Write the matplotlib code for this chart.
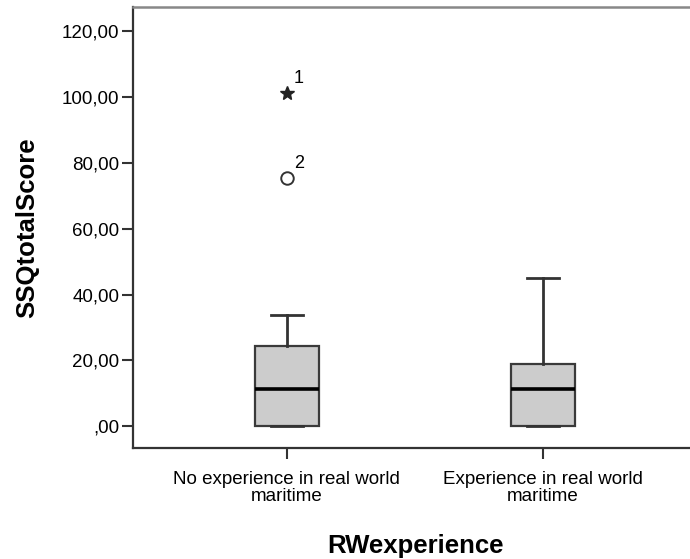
import numpy as np
import matplotlib.pyplot as plt

plt.rcParams['font.family'] = ['Liberation Sans', 'DejaVu Sans']

# box statistics per group
groups = ['No experience in real world\nmaritime', 'Experience in real world\nmaritime']
q1 = [0.0, 0.0]
median = [11.2, 11.2]
q3 = [24.3, 18.8]
whislo = [0.0, 0.0]
whishi = [33.7, 45.0]

# outliers (group index, value, case label)
outlier_vals = [75.4]
outlier_ids = ['2']
extreme_vals = [101.2]
extreme_ids = ['1']

stats = []
for i in range(len(groups)):
    stats.append({'med': median[i], 'q1': q1[i], 'q3': q3[i],
                  'whislo': whislo[i], 'whishi': whishi[i], 'fliers': []})

fig = plt.figure(figsize=(6.9, 5.59), dpi=100)
ax = fig.add_axes([0.193, 0.198, 0.817, 0.789])

ax.bxp(stats, positions=[1, 2], widths=0.25, patch_artist=True, showfliers=False,
       boxprops=dict(facecolor='#cccccc', edgecolor='#3a3a3a', linewidth=1.6),
       medianprops=dict(color='black', linewidth=2.6),
       whiskerprops=dict(color='#333333', linewidth=2.0),
       capprops=dict(color='#333333', linewidth=2.0), capwidths=0.125)

ax.plot([1] * len(outlier_vals), outlier_vals, 'o', mfc='white', mec='#333333',
        ms=9, mew=1.4)
ax.plot([1] * len(extreme_vals), extreme_vals, '*', color='#222222', ms=10)
for v, s in zip(outlier_vals, outlier_ids):
    ax.annotate(s, (1, v), xytext=(5, 7), textcoords='offset points', fontsize=13)
for v, s in zip(extreme_vals, extreme_ids):
    ax.annotate(s, (1, v), xytext=(5, 7), textcoords='offset points', fontsize=13)

yt = np.arange(0, 121, 20)
ylabels = []
for t in yt:
    s = ('%.2f' % t).replace('.', ',')
    if t == 0:
        s = s.lstrip('0')
    ylabels.append(s)

ax.set_xlim(0.4, 2.6)
ax.set_ylim(-6.7, 127.3)
ax.set_yticks(yt)
ax.set_yticklabels(ylabels)
ax.set_xticks([1, 2])
ax.set_xticklabels(groups, fontsize=13.5, linespacing=1.0)
ax.tick_params(axis='y', labelsize=13.5, length=8, width=1.5, color='#333333', pad=2)
ax.tick_params(axis='x', length=8, width=1.5, color='#333333', pad=8)

for side in ['left', 'bottom']:
    ax.spines[side].set_color('#333333')
    ax.spines[side].set_linewidth(1.6)
ax.spines['top'].set_color('#888888')
ax.spines['top'].set_linewidth(1.8)
ax.spines['right'].set_visible(False)

ax.set_ylabel('SSQtotalScore', fontsize=18.5, fontweight='bold', labelpad=16)
ax.set_xlabel('RWexperience', fontsize=18.5, fontweight='bold', labelpad=21)

fig.savefig('out.png', dpi=100)
